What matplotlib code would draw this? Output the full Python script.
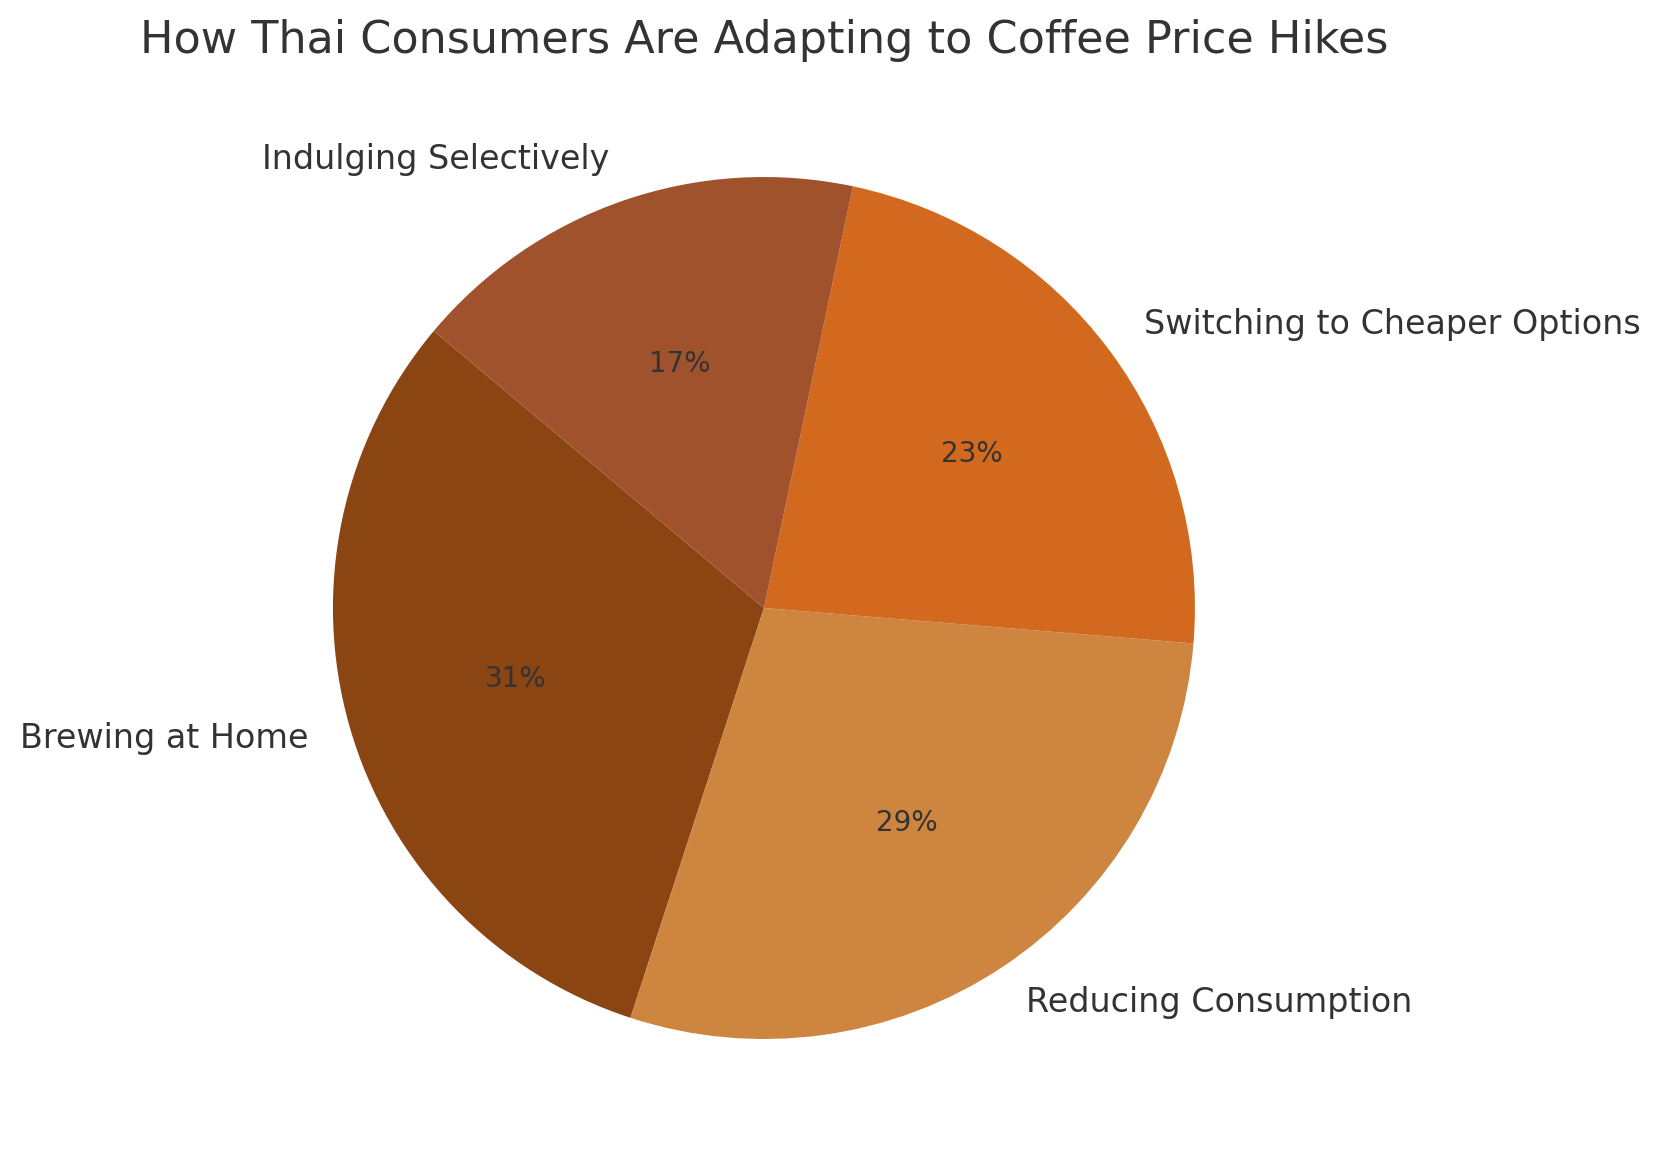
import matplotlib
matplotlib.use("Agg")
from matplotlib import pyplot as plt

labels = ['Brewing at Home', 'Reducing Consumption', 'Switching to Cheaper Options', 'Indulging Selectively']
shares = [31.1, 28.7, 23.0, 17.2]
colors = ['#8B4513', '#CD853F', '#D2691E', '#A0522D']
title = 'How Thai Consumers Are Adapting to Coffee Price Hikes'

plt.rcParams['font.family'] = 'DejaVu Sans'
plt.rcParams['text.color'] = '#333333'

fig = plt.figure(figsize=(16.62, 11.68), dpi=100)
ax = fig.add_axes([0.1355, 0.0182, 0.6483, 0.9225])

wedges, texts, autotexts = ax.pie(shares, labels=labels, colors=colors, startangle=140,
                                  autopct='%1.0f%%', labeldistance=1.1, pctdistance=0.6,
                                  textprops={'fontsize': 24, 'color': '#333333'})
for t in autotexts:
    t.set_fontsize(20)
ax.set_xlim(-1.25, 1.25)
ax.set_ylim(-1.25, 1.25)
ax.set_aspect('equal')
ax.set_title(title, fontsize=32, color='#333333', pad=12)

fig.savefig('out.png', dpi=100)
